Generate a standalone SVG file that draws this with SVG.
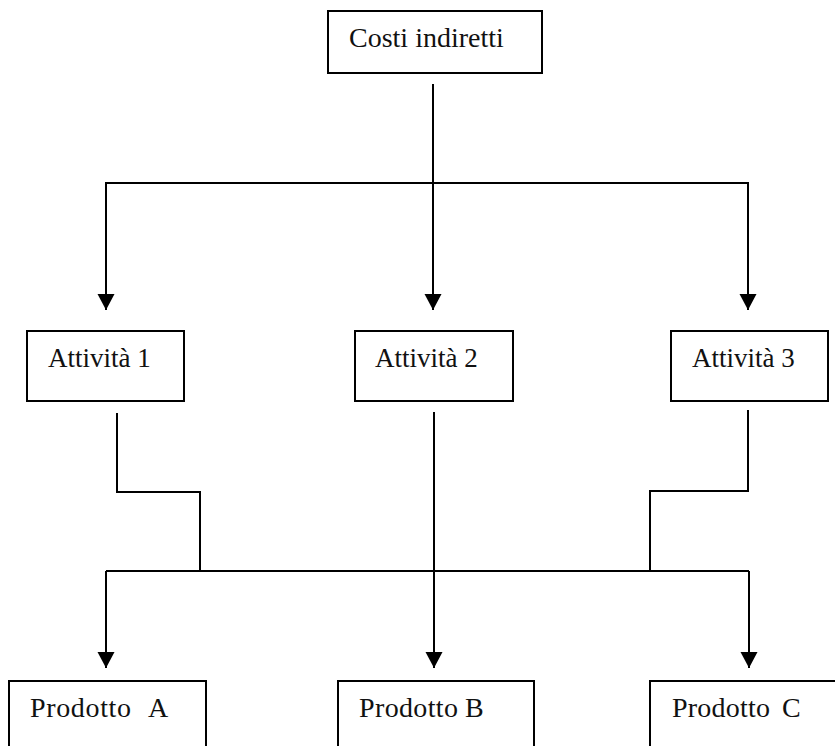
<svg xmlns="http://www.w3.org/2000/svg" width="835" height="746" viewBox="0 0 835 746">
  <style>
    .box { fill: #ffffff; stroke: #000000; stroke-width: 2; }
    .lbl { font-family: 'Liberation Serif', 'Times New Roman', Times, 'DejaVu Serif', serif; font-size: 27px; fill: #111111; }
    .big { font-size: 28px; }
    .wire { fill: none; stroke: #000000; stroke-width: 2; }
  </style>
  <defs>
    <marker id="arrow" markerUnits="userSpaceOnUse" markerWidth="18" markerHeight="18" refX="16" refY="8.5" orient="auto">
      <path d="M0,0 L16,8.5 L0,17 Z" fill="#000000"/>
    </marker>
  </defs>
  <rect width="835" height="746" fill="#ffffff"/>

  <g id="connectors">
    <!-- cost pool to activities -->
    <line class="wire" x1="433" y1="84" x2="433" y2="310" marker-end="url(#arrow)"/>
    <polyline class="wire" points="106,310 106,183 748,183 748,310" marker-end="url(#arrow)"/>
    <line class="wire" x1="106" y1="183" x2="106" y2="310" marker-end="url(#arrow)"/>
    <!-- activities to products -->
    <polyline class="wire" points="117,413 117,492 200,492 200,571"/>
    <polyline class="wire" points="748,410 748,491 650,491 650,571"/>
    <line class="wire" x1="106" y1="571" x2="749" y2="571"/>
    <line class="wire" x1="106" y1="571" x2="106" y2="668" marker-end="url(#arrow)"/>
    <line class="wire" x1="434" y1="412" x2="434" y2="668" marker-end="url(#arrow)"/>
    <line class="wire" x1="749" y1="571" x2="749" y2="668" marker-end="url(#arrow)"/>
  </g>

  <g id="costi-indiretti">
    <rect class="box" x="328" y="11" width="214" height="62"/>
    <text class="lbl big" x="349" y="47">Costi indiretti</text>
  </g>

  <g id="attivita-1">
    <rect class="box" x="27" y="331" width="157" height="70"/>
    <text class="lbl" x="48" y="367">Attività 1</text>
  </g>
  <g id="attivita-2">
    <rect class="box" x="355" y="331" width="158" height="70"/>
    <text class="lbl" x="375" y="367">Attività 2</text>
  </g>
  <g id="attivita-3">
    <rect class="box" x="671" y="331" width="157" height="70"/>
    <text class="lbl" x="692" y="367">Attività 3</text>
  </g>

  <g id="prodotto-a">
    <rect class="box" x="9" y="681" width="197" height="80"/>
    <text class="lbl big" y="717"><tspan x="30" textLength="101">Prodotto</tspan><tspan x="148">A</tspan></text>
  </g>
  <g id="prodotto-b">
    <rect class="box" x="338" y="681" width="196" height="80"/>
    <text class="lbl big" y="717"><tspan x="359" textLength="99">Prodotto</tspan><tspan x="465">B</tspan></text>
  </g>
  <g id="prodotto-c">
    <rect class="box" x="650" y="681" width="200" height="80"/>
    <text class="lbl big" y="717"><tspan x="672" textLength="98">Prodotto</tspan><tspan x="782">C</tspan></text>
  </g>
</svg>
